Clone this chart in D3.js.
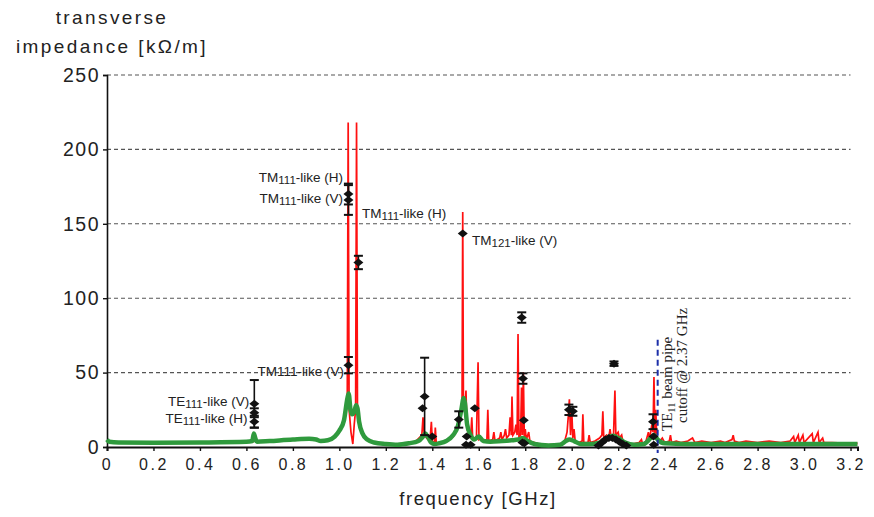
<!DOCTYPE html>
<html>
<head>
<meta charset="utf-8">
<script src="https://cdn.jsdelivr.net/npm/d3@7"></script>
<style>
  body { margin: 0; background: #fff; }
  svg text { font-family: "Liberation Sans", Arial, sans-serif; fill: #222; }
</style>
</head>
<body>
<div id="chart"></div>
<script>
// ---- data ----
const yTicks = [0, 50, 100, 150, 200, 250];
const xTicks = [0, 0.2, 0.4, 0.6, 0.8, 1.0, 1.2, 1.4, 1.6, 1.8, 2.0, 2.2, 2.4, 2.6, 2.8, 3.0, 3.2];
const xTickLabels = ["0", "0.2", "0.4", "0.6", "0.8", "1.0", "1.2", "1.4", "1.6", "1.8", "2.0", "2.2", "2.4", "2.6", "2.8", "3.0", "3.2"];

// simulated impedance (red), [GHz, kOhm/m]
const redSpectrum = [
  [0,4],[0.05,2.8],[0.3,2.6],[0.6,3.2],[0.628,3.5],[0.633,10],[0.638,4],[0.7,4],[0.8,5],[0.87,6],[0.9,5],
  [0.95,4.5],[0.98,7],[1.0,10],[1.02,18],[1.034,30],[1.038,218],[1.042,25],[1.05,10],[1.058,2],[1.064,15],
  [1.07,25],[1.074,218],[1.078,25],[1.085,18],[1.1,9],[1.12,5],[1.15,3],[1.2,2],[1.25,1.5],[1.3,2.5],
  [1.33,4],[1.355,8],[1.36,20],[1.365,9],[1.375,6],[1.39,4],[1.396,17],[1.4,4],[1.41,3],[1.413,13],
  [1.417,3],[1.43,2.5],[1.45,3],[1.47,5],[1.49,7],[1.5,10],[1.51,13],[1.52,20],[1.528,28],[1.531,158],
  [1.534,30],[1.54,25],[1.545,38],[1.549,12],[1.555,10],[1.56,8],[1.565,6],[1.57,20],[1.574,5],[1.59,6],
  [1.597,57],[1.601,5],[1.61,6],[1.62,4],[1.635,5],[1.639,25],[1.643,4],[1.66,5],[1.665,10],[1.67,4],
  [1.69,6],[1.695,10],[1.7,5],[1.71,8],[1.715,12],[1.72,6],[1.73,8],[1.735,20],[1.74,8],[1.743,34],
  [1.747,8],[1.755,10],[1.76,15],[1.765,8],[1.769,76],[1.773,6],[1.78,8],[1.784,40],[1.788,8],[1.792,50],
  [1.796,6],[1.8,12],[1.805,5],[1.815,10],[1.82,4],[1.84,3],[1.86,2],[1.9,1.5],[1.95,2],[1.97,4],
  [1.98,10],[1.985,20],[1.99,32],[1.995,8],[2.0,25],[2.005,6],[2.01,12],[2.015,4],[2.03,3],[2.045,4],
  [2.048,22],[2.052,3],[2.07,3],[2.075,8],[2.08,3],[2.1,4],[2.12,6],[2.13,8],[2.134,24],[2.138,6],
  [2.15,8],[2.16,7],[2.165,12],[2.17,6],[2.18,8],[2.186,38],[2.19,8],[2.2,10],[2.205,6],[2.215,8],
  [2.22,4],[2.24,3],[2.26,2],[2.29,3],[2.3,5],[2.305,2],[2.32,4],[2.33,10],[2.335,5],[2.345,15],
  [2.35,10],[2.354,47],[2.358,8],[2.362,25],[2.366,5],[2.38,4],[2.39,6],[2.4,3],[2.42,4],[2.425,8],
  [2.43,3],[2.45,4],[2.47,3],[2.5,4],[2.52,6],[2.53,3],[2.56,4],[2.6,3],[2.64,4],[2.66,3],[2.69,5],
  [2.695,8],[2.7,4],[2.72,3],[2.75,4],[2.8,3],[2.85,4],[2.9,3],[2.94,4],[2.955,7],[2.96,3],[2.975,8],
  [2.98,3],[2.995,8],[3.0,3],[3.035,9],[3.04,3],[3.06,10],[3.065,3],[3.08,6],[3.085,3],[3.12,3],
  [3.2,2.5],[3.23,2.5]
];

// smoothed impedance (green)
const greenSpectrum = [
  [0,5],[0.01,3.5],[0.05,3],[0.2,2.8],[0.4,3],[0.6,3.5],[0.625,4],[0.632,9],[0.638,6],[0.645,3.5],
  [0.7,4],[0.8,5],[0.87,5.5],[0.9,5],[0.92,4],[0.95,4.5],[0.98,7],[1.0,11],[1.02,18],[1.035,33],
  [1.04,36],[1.048,25],[1.055,22],[1.065,24],[1.072,28],[1.078,26],[1.085,17],[1.1,9],[1.12,5],
  [1.15,3],[1.2,2],[1.25,1.5],[1.3,2.5],[1.34,4],[1.36,7],[1.37,9],[1.38,7],[1.395,3],[1.41,2],
  [1.43,2.5],[1.46,4],[1.49,8],[1.51,14],[1.525,25],[1.535,33],[1.54,30],[1.55,15],[1.565,8],
  [1.58,5],[1.6,7],[1.62,4],[1.65,3.5],[1.7,4],[1.74,4.5],[1.77,5],[1.79,6],[1.81,4],[1.84,2],
  [1.9,1],[1.95,1.5],[1.975,4],[1.99,5],[2.01,4],[2.04,2],[2.08,2],[2.12,3],[2.15,6],[2.18,7.5],
  [2.2,6],[2.23,3],[2.27,1.5],[2.31,2],[2.34,6],[2.355,8],[2.37,5],[2.4,2.5],[2.5,2],[2.7,2],
  [3.0,2],[3.23,2]
];

// measured points: frequency, value, error
const measFreq  = [0.634, 0.634, 0.634, 1.039, 1.039, 1.082, 1.039, 1.531, 1.367, 1.358, 1.4, 1.514,
                   1.548, 1.545, 1.565, 1.583, 1.785, 1.79, 1.794, 1.788, 1.796, 1.988, 2.005, 2.182,
                   2.115, 2.13, 2.145, 2.16, 2.175, 2.19, 2.205, 2.22, 2.235, 2.35, 2.352, 2.353];
const measValue = [29, 23, 17, 170, 166, 124, 55, 143.5, 34, 26, 7, 18.5,
                   7, 1.5, 1.5, 26, 87, 46, 18, 3, 2.5, 25, 24, 56,
                   1, 3, 5, 6, 6, 5, 3.5, 2, 1, 17, 7, 1.5];
const measErr   = [16, 3, 4, 7, 10, 4.5, 5.5, 0, 26, 0, 0, 5.5,
                   0, 0, 0, 0, 3.5, 3.5, 0, 0, 0, 3.5, 3, 1.5,
                   0, 0, 0, 0, 0, 0, 0, 0, 0, 5, 0, 0];

const cutoffFreq = 2.37;

// ---- layout ----
const W = 874, H = 517;
const x = d3.scaleLinear().domain([0, 3.23]).range([107, 857.5]);
const y = d3.scaleLinear().domain([0, 250]).range([447, 75]);

const svg = d3.select("#chart").append("svg")
    .attr("width", W).attr("height", H);

// gridlines
svg.append("g").selectAll("line")
    .data(yTicks.filter(d => d > 0))
    .enter().append("line")
    .attr("x1", x(0)).attr("x2", x(3.2))
    .attr("y1", d => y(d)).attr("y2", d => y(d))
    .attr("stroke", "#555").attr("stroke-width", 1.1)
    .attr("stroke-dasharray", "4,3");

// y axis
let yAxis = d3.axisLeft(y).tickValues(yTicks).tickSize(4).tickPadding(3);
let gy = svg.append("g").attr("transform", `translate(${x(0)},0)`).call(yAxis);
gy.select(".domain").attr("stroke", "#111").attr("stroke-width", 1.6);
gy.selectAll(".tick line").attr("stroke", "#111").attr("stroke-width", 1.4);
gy.selectAll("text").style("font-size", "19.5px").style("letter-spacing", "1.5px").attr("fill", "#222");

// x axis
let xAxis = d3.axisBottom(x).tickValues(xTicks).tickSize(4).tickPadding(8)
    .tickFormat((d, i) => xTickLabels[i]);
let gx = svg.append("g").attr("transform", `translate(0,${y(0)})`).call(xAxis);
gx.select(".domain").attr("stroke", "#111").attr("stroke-width", 2);
gx.selectAll(".tick line").attr("stroke", "#111").attr("stroke-width", 1.4);
gx.selectAll("text").style("font-size", "16px").style("letter-spacing", "2.5px").attr("fill", "#222");

// spectra
let line = d3.line().x(d => x(d[0])).y(d => y(d[1]));
svg.append("path").datum(redSpectrum)
    .attr("d", line).attr("fill", "none")
    .attr("stroke", "#ff1010").attr("stroke-width", 1.7).attr("stroke-linejoin", "miter");
svg.append("path").datum(greenSpectrum)
    .attr("d", line.curve(d3.curveMonotoneX)).attr("fill", "none")
    .attr("stroke", "#2f9a3d").attr("stroke-width", 4.5).attr("stroke-linejoin", "round");

// cutoff marker
svg.append("line")
    .attr("x1", x(cutoffFreq)).attr("x2", x(cutoffFreq))
    .attr("y1", y(72)).attr("y2", y(-4))
    .attr("stroke", "#1c2fa8").attr("stroke-width", 2).attr("stroke-dasharray", "6,4");

// measurements
let meas = measFreq.map((f, i) => ({ f: f, v: measValue[i], e: measErr[i] }));
let mg = svg.append("g");
let withErr = meas.filter(d => d.e > 0);
mg.selectAll(".eb").data(withErr).enter().append("line")
    .attr("x1", d => x(d.f)).attr("x2", d => x(d.f))
    .attr("y1", d => y(d.v + d.e)).attr("y2", d => y(d.v - d.e))
    .attr("stroke", "#111").attr("stroke-width", 1.6);
[1, -1].forEach(s => {
  mg.selectAll(".cap" + s).data(withErr).enter().append("line")
      .attr("x1", d => x(d.f) - 4.5).attr("x2", d => x(d.f) + 4.5)
      .attr("y1", d => y(d.v + s * d.e)).attr("y2", d => y(d.v + s * d.e))
      .attr("stroke", "#111").attr("stroke-width", 2);
});
mg.selectAll(".pt").data(meas).enter().append("path")
    .attr("d", "M-5,0L0,-4L5,0L0,4Z")
    .attr("transform", d => `translate(${x(d.f)},${y(d.v)})`)
    .attr("fill", "#111");

// titles
svg.append("text").attr("x", 112).attr("y", 24).attr("text-anchor", "middle")
    .style("font-size", "19px").style("letter-spacing", "2.4px").text("transverse");
svg.append("text").attr("x", 112).attr("y", 53).attr("text-anchor", "middle")
    .style("font-size", "19px").style("letter-spacing", "2.4px").text("impedance [kΩ/m]");
svg.append("text").attr("x", 478).attr("y", 505).attr("text-anchor", "middle")
    .style("font-size", "18.5px").style("letter-spacing", "1.6px").text("frequency [GHz]");

// mode labels
function modeLabel(px, py, anchor, pre, sub, post, plain) {
  let t = svg.append("text").attr("x", px).attr("y", py).attr("text-anchor", anchor)
      .style("font-size", "13.5px");
  t.append("tspan").text(pre);
  t.append("tspan").text(sub).style("font-size", plain ? "13.5px" : "11.5px")
      .attr("dy", plain ? 0 : 2);
  t.append("tspan").text(post).attr("dy", plain ? 0 : -2);
}
modeLabel(x(1.016), y(178), "end", "TM", "111", "-like (H)");
modeLabel(x(1.016), y(164), "end", "TM", "111", "-like (V)");
modeLabel(x(1.098), y(154), "start", "TM", "111", "-like (H)");
modeLabel(x(1.571), y(136), "start", "TM", "121", "-like (V)");
modeLabel(x(1.02), y(48), "end", "TM", "111", "-like (V)", true);
modeLabel(x(0.612), y(27.5), "end", "TE", "111", "-like (V)");
modeLabel(x(0.605), y(16), "end", "TE", "111", "-like (H)");

// cutoff note (rotated)
let note = svg.append("g");
let n1 = note.append("text").attr("transform", `translate(672,431) rotate(-90)`)
    .style("font-size", "15px").style("font-family", "'Liberation Serif', 'Times New Roman', serif");
n1.append("tspan").text("TE");
n1.append("tspan").text("11").style("font-size", "10.5px").attr("dy", 3);
n1.append("tspan").text(" beam pipe").attr("dy", -3);
note.append("text").attr("transform", `translate(687,423) rotate(-90)`)
    .style("font-size", "15px").style("font-family", "'Liberation Serif', 'Times New Roman', serif")
    .text("cutoff @ 2.37 GHz");
</script>
</body>
</html>
